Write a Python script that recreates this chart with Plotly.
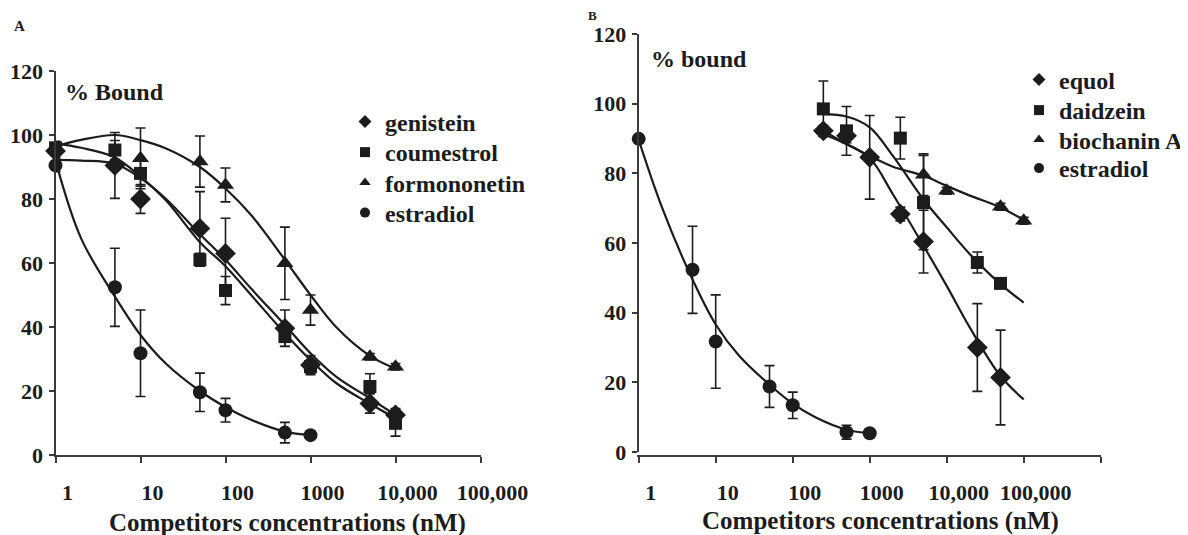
import plotly.graph_objects as go

# ---------------- Panel A data ----------------
a_x_conc = [1, 5, 10, 50, 100, 500, 1000, 5000, 10000]
gen_y   = [95, 90.5, 80, 70.8, 63, 39.6, 28.1, 16.1, 12.5]
gen_err = [2, 10.3, 4.5, 11.5, 11, 5.7, 3, 3, 2]
cou_y   = [96, 95.3, 88, 61, 51.4, 37, 27.6, 21.4, 9.9]
cou_err = [2, 3, 4, 2, 4.4, 3, 2, 4, 4]
form_x  = [10, 50, 100, 500, 1000, 5000, 10000]
form_y  = [92.7, 91.7, 84.4, 59.9, 45.3, 30.7, 27.6]
form_err = [9.5, 8, 5.3, 11.3, 4.7, 1, 1]
estA_x  = [1, 5, 10, 50, 100, 500, 1000]
estA_y  = [90.5, 52.4, 31.8, 19.6, 14, 7, 6.2]
estA_err = [2, 12.2, 13.5, 6, 3.7, 3.2, 0.5]

# fitted curves, values
curveA_x    = [1, 2, 5, 10, 20, 50, 100, 200, 500, 1000, 2000, 5000, 10000]
gen_curve   = [92.2, 92, 91, 86.5, 80, 69, 61, 52, 40.6, 31.8, 24.5, 17.7, 12.5]
cou_curve   = [97.4, 96, 93, 87, 79.5, 66.5, 59, 50, 38, 29.7, 22.5, 16, 11.5]
form_curve  = [96.5, 98.5, 100, 98.4, 95.8, 90, 83.3, 75, 61, 50, 40, 31, 27]
estA_curve_x = [1, 2, 5, 10, 20, 50, 100, 200, 500, 1000]
estA_curve  = [92, 67.7, 49.5, 37.5, 28.5, 20, 15, 11, 7.3, 6.2]

# ---------------- Panel B data ----------------
equ_x   = [250, 500, 1000, 2500, 5000, 25000, 50000]
equ_y   = [92.2, 90.8, 84.6, 68.3, 60.4, 30, 21.4]
equ_err = [1.5, 2, 12, 2, 9, 12.6, 13.6]
dai_x   = [250, 500, 2500, 5000, 25000, 50000]
dai_y   = [98.5, 92.2, 90.1, 71.6, 54.4, 48.4]
dai_err = [8, 7, 6, 13.5, 3, 1]
bio_x   = [5000, 10000, 50000, 100000]
bio_y   = [79.6, 75, 70.4, 66.4]
bio_err = [6, 1, 1, 1]
estB_x  = [1, 5, 10, 50, 100, 500, 1000]
estB_y  = [89.9, 52.3, 31.7, 18.8, 13.4, 5.7, 5.4]
estB_err = [1, 12.5, 13.4, 6, 3.8, 2, 0.5]

curveB_x   = [250, 500, 1000, 2000, 5000, 10000, 20000, 50000, 100000]
equ_curve  = [92.2, 88.4, 84.4, 74, 59.2, 47.7, 35.7, 21.8, 15.1]
dai_curve  = [97, 96.3, 93.2, 85, 72.5, 64.5, 56.8, 48.2, 42.9]
bio_curve  = [91.3, 88.4, 85, 81.9, 79.3, 76.4, 73.6, 70.2, 66.6]
estB_curve_x = [1, 2, 5, 10, 20, 50, 100, 200, 500, 1000]
estB_curve = [89.6, 70.3, 49.5, 36.6, 27.7, 19.3, 13.9, 9.9, 6.4, 5.4]

tick_vals = [1, 10, 100, 1000, 10000, 100000]
tick_text = ["1", "10", "100", "1000", "10,000", "100,000"]
y_ticks = [0, 20, 40, 60, 80, 100, 120]

legendA = ["genistein", "coumestrol", "formononetin", "estradiol"]
legendB = ["equol", "daidzein", "biochanin A", "estradiol"]

INK = "#1c1c1c"
AXC = "#3a3a3a"
FONT = "Liberation Serif"

# page body has an 8px margin: the figure is offset by OFF in the screenshot
OFF = 8
W, H = 1180, 527


def fx(px):
    return (px - OFF) / W


def fy(py):
    return 1 - (py - OFF) / H


fig = go.Figure()


def points(x, y, err, symbol, size, xa, ya):
    fig.add_trace(go.Scatter(
        x=x, y=y, mode="markers", xaxis=xa, yaxis=ya, showlegend=False,
        marker=dict(symbol=symbol, size=size, color=INK),
        error_y=dict(type="data", array=err, visible=True, color=INK,
                     thickness=1.6, width=5),
        cliponaxis=False))


def curve(x, y, xa, ya):
    fig.add_trace(go.Scatter(
        x=x, y=y, mode="lines", xaxis=xa, yaxis=ya, showlegend=False,
        line=dict(color=INK, width=2.2, shape="spline", smoothing=1.0)))


# Panel A
curve(curveA_x, gen_curve, "x", "y")
curve(curveA_x, cou_curve, "x", "y")
curve(curveA_x, form_curve, "x", "y")
curve(estA_curve_x, estA_curve, "x", "y")
points(a_x_conc, gen_y, gen_err, "diamond", 16, "x", "y")
points(a_x_conc, cou_y, cou_err, "square", 13, "x", "y")
points(form_x, form_y, form_err, "triangle-up", 15, "x", "y")
points(estA_x, estA_y, estA_err, "circle", 14, "x", "y")

# Panel B
curve(curveB_x, equ_curve, "x2", "y2")
curve(curveB_x, dai_curve, "x2", "y2")
curve(curveB_x, bio_curve, "x2", "y2")
curve(estB_curve_x, estB_curve, "x2", "y2")
points(equ_x, equ_y, equ_err, "diamond", 16, "x2", "y2")
points(dai_x, dai_y, dai_err, "square", 13, "x2", "y2")
points(bio_x, bio_y, bio_err, "triangle-up", 15, "x2", "y2")
points(estB_x, estB_y, estB_err, "circle", 14, "x2", "y2")

# legend entries: one small legend per entry so spacing matches the figure
symbols = ["diamond", "square", "triangle-up", "circle"]
legend_font = dict(family=FONT, size=24, color=INK, weight="bold")
legend_layout = {}
rowsA = [122, 152.5, 183, 213]
rowsB = [80, 110.5, 140, 168.5]
k = 1
for names, rows, left, xa, ya in ((legendA, rowsA, 345, "x", "y"),
                                  (legendB, rowsB, 1019, "x2", "y2")):
    for name, sym, row in zip(names, symbols, rows):
        key = "legend" if k == 1 else f"legend{k}"
        fig.add_trace(go.Scatter(x=[None], y=[None], mode="markers", name=name,
                                 xaxis=xa, yaxis=ya, legend=key,
                                 marker=dict(symbol=sym, size=10, color=INK)))
        legend_layout[key] = dict(x=fx(left), y=fy(row), xanchor="left",
                                  yanchor="middle", bgcolor="rgba(0,0,0,0)",
                                  itemwidth=30, borderwidth=0, font=legend_font)
        k += 1

tickfont = dict(family=FONT, size=22, color=INK, weight="bold")


def xaxis(dom, rng, vals, text):
    return dict(domain=dom, type="log", range=rng, tickvals=vals, ticktext=text,
                showline=True, linecolor=AXC, linewidth=2, ticks="outside",
                ticklen=6, tickwidth=2, tickcolor=AXC, showgrid=False,
                zeroline=False, tickfont=tickfont, ticklabelstandoff=11,
                ticklabelshift=12, fixedrange=True, automargin=False)


def yaxis(dom, anchor):
    return dict(domain=dom, range=[0, 120], tickvals=y_ticks, anchor=anchor,
                showline=True, linecolor=AXC, linewidth=2, ticks="outside",
                ticklen=5, tickwidth=2, tickcolor=AXC, showgrid=False,
                zeroline=False, tickfont=tickfont, ticklabelstandoff=1,
                fixedrange=True, automargin=False)


fig.update_layout(
    width=W, height=H,
    margin=dict(l=0, r=0, t=0, b=0, pad=0, autoexpand=False),
    paper_bgcolor="white", plot_bgcolor="white",
    font=dict(family=FONT, color=INK),
    xaxis=xaxis([fx(55.5), fx(480.5)], [0, 5], tick_vals, tick_text),
    yaxis=yaxis([fy(455), fy(71)], "x"),
    xaxis2=xaxis([fx(638.7), fx(1100.7)], [0, 6], tick_vals + [1000000], tick_text + [""]),
    yaxis2=yaxis([fy(452), fy(34)], "x2"),
    **legend_layout,
)

ann_font = dict(family=FONT, size=24, color=INK, weight="bold")
title_font = dict(family=FONT, size=25, color=INK, weight="bold")
small_font = dict(family=FONT, size=15, color=INK, weight="bold")
b_font = dict(family=FONT, size=13, color=INK, weight="bold")


def label(text, px, py, font, xanchor="center"):
    fig.add_annotation(text=text, x=fx(px), y=fy(py), xref="paper", yref="paper",
                       xanchor=xanchor, yanchor="middle", showarrow=False, font=font)


label("A", 19, 26, small_font)
label("B", 592, 15, b_font)
label("% Bound", 63, 92, ann_font, "left")
label("% bound", 649, 59, ann_font, "left")
label("Competitors concentrations (nM)", 287, 523, title_font)
label("Competitors concentrations (nM)", 880, 521, title_font)

fig.write_html("out.html")
